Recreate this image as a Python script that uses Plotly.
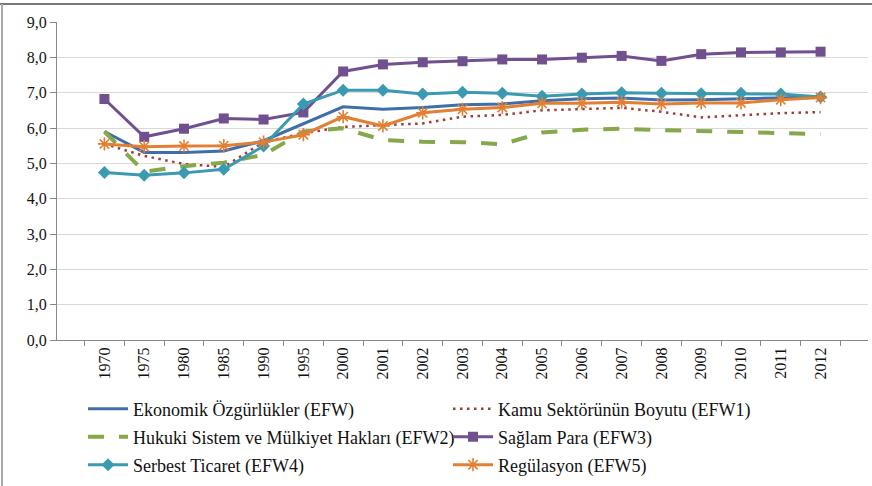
import plotly.graph_objects as go

years = ["1970", "1975", "1980", "1985", "1990", "1995", "2000", "2001", "2002", "2003",
         "2004", "2005", "2006", "2007", "2008", "2009", "2010", "2011", "2012"]

efw = [5.90, 5.31, 5.31, 5.35, 5.64, 6.13, 6.60, 6.53, 6.58, 6.66,
       6.68, 6.77, 6.83, 6.85, 6.79, 6.80, 6.82, 6.84, 6.88]
efw1 = [5.55, 5.21, 4.98, 4.90, 5.60, 5.85, 6.03, 6.07, 6.13, 6.32,
        6.37, 6.50, 6.53, 6.57, 6.46, 6.30, 6.36, 6.42, 6.45]
efw2 = [5.90, 4.76, 4.92, 5.02, 5.24, 5.90, 5.99, 5.66, 5.61, 5.60,
        5.54, 5.87, 5.95, 5.98, 5.94, 5.91, 5.89, 5.87, 5.83]
efw3 = [6.82, 5.75, 5.98, 6.27, 6.24, 6.44, 7.60, 7.80, 7.86, 7.89,
        7.94, 7.94, 7.99, 8.04, 7.90, 8.09, 8.14, 8.14, 8.16]
efw4 = [4.74, 4.66, 4.73, 4.83, 5.49, 6.68, 7.07, 7.07, 6.96, 7.01,
        6.98, 6.90, 6.96, 7.00, 6.98, 6.97, 6.98, 6.96, 6.88]
efw5 = [5.55, 5.47, 5.49, 5.50, 5.60, 5.81, 6.32, 6.06, 6.43, 6.53,
        6.58, 6.70, 6.70, 6.73, 6.68, 6.71, 6.71, 6.80, 6.86]

names = ["Ekonomik Özgürlükler (EFW)", "Kamu Sektörünün Boyutu (EFW1)",
         "Hukuki Sistem ve Mülkiyet Hakları (EFW2)", "Sağlam Para (EFW3)",
         "Serbest Ticaret (EFW4)", "Regülasyon (EFW5)"]

FONT = "Liberation Serif"

fig = go.Figure()
fig.add_trace(go.Scatter(x=years, y=efw, name=names[0], mode="lines",
                         line=dict(color="#3F6EAA", width=3), legend="legend"))
fig.add_trace(go.Scatter(x=years, y=efw1, name=names[1], mode="lines",
                         line=dict(color="#A33A3A", width=2.5, dash="2.5px,4.5px"), legend="legend"))
fig.add_trace(go.Scatter(x=years, y=efw2, name=names[2], mode="lines",
                         line=dict(color="#86A84A", width=4, dash="16px,15px"), legend="legend2"))
fig.add_trace(go.Scatter(x=years, y=efw3, name=names[3], mode="lines+markers",
                         line=dict(color="#70508F", width=3),
                         marker=dict(symbol="square", size=10, color="#70508F"), legend="legend2"))
fig.add_trace(go.Scatter(x=years, y=efw4, name=names[4], mode="lines+markers",
                         line=dict(color="#3A9AB2", width=3),
                         marker=dict(symbol="diamond", size=10, color="#3A9AB2"), legend="legend3"))
fig.add_trace(go.Scatter(x=years, y=efw5, name=names[5], mode="lines+markers",
                         line=dict(color="#E27F33", width=3),
                         marker=dict(symbol="asterisk-open", size=11,
                                     line=dict(color="#E27F33", width=1.6)), legend="legend3"))

W, H = 872, 486
leg_common = dict(orientation="h", xref="container", yref="container",
                  x=83 / W, xanchor="left", yanchor="middle",
                  entrywidth=310, entrywidthmode="pixels",
                  font=dict(family=FONT, size=18, color="#111"),
                  bgcolor="rgba(0,0,0,0)", itemwidth=40)


def cy(pix):
    return 1 - pix / H


def py(pix):
    return 1 - (pix - 22) / 318.0


fig.update_layout(
    width=W, height=H,
    margin=dict(l=57, r=4, t=22, b=146, autoexpand=False),
    paper_bgcolor="white", plot_bgcolor="white",
    separators=",.",
    font=dict(family=FONT, size=16, color="#111"),
    legend=dict(**leg_common, y=cy(409)),
    legend2=dict(**leg_common, y=cy(437)),
    legend3=dict(**leg_common, y=cy(465)),
    xaxis=dict(type="category", showgrid=False, showline=True, linecolor="#888",
               linewidth=1, ticks="outside", tickson="boundaries", ticklen=5,
               tickcolor="#888", tickangle=-90,
               tickfont=dict(family=FONT, size=16, color="#111")),
    yaxis=dict(range=[0, 9], dtick=1, tickformat=".1f", showgrid=True,
               gridcolor="#D9D9D9", gridwidth=1, showline=True, linecolor="#888",
               linewidth=1, ticks="outside", ticklen=6, tickcolor="#888",
               zeroline=False,
               tickfont=dict(family=FONT, size=16, color="#111")),
    shapes=[
        dict(type="line", xref="paper", yref="paper",
             x0=-0.075, x1=1.01, y0=py(4), y1=py(4),
             line=dict(color="#777", width=2)),
        dict(type="line", xref="paper", yref="paper",
             x0=(2 - 57) / 811.0, x1=(2 - 57) / 811.0, y0=py(4), y1=py(490),
             line=dict(color="#AAA", width=2)),
    ],
)

fig.write_html("out.html", config={"displayModeBar": False},
               post_script="document.body.style.margin='0';document.body.style.padding='0';")
